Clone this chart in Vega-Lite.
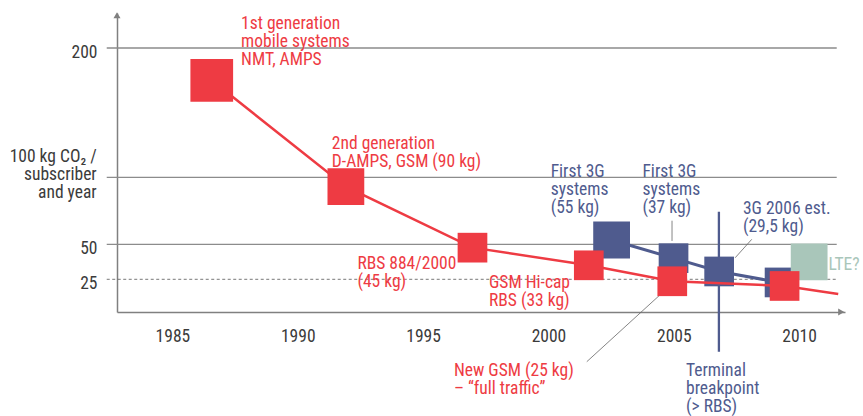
{
  "$schema": "https://vega.github.io/schema/vega-lite/v6.json",
  "width": 728,
  "height": 299,
  "autosize": {"type": "none"},
  "padding": {"left": 117, "top": 13, "right": 18, "bottom": 104},
  "background": "white",
  "config": {"view": {"stroke": null}, "font": "Liberation Sans Narrow, Roboto Condensed, DejaVu Sans Condensed, sans-serif"},
  "datasets": {
    "grid": [{"kg": 200}, {"kg": 100}, {"kg": 50}, {"kg": 25}],
    "systems": [
      {"series": "GSM", "year": 1986.57, "kg": 175.0, "marker": "1G"},
      {"series": "GSM", "year": 1991.92, "kg": 93.0, "marker": "large"},
      {"series": "GSM", "year": 1996.97, "kg": 47.6, "marker": "std"},
      {"series": "GSM", "year": 2001.61, "kg": 35.0, "marker": "std"},
      {"series": "GSM", "year": 2004.94, "kg": 23.5, "marker": "std"},
      {"series": "GSM", "year": 2009.42, "kg": 19.9, "marker": "std"},
      {"series": "GSM", "year": 2011.56, "kg": 13.8, "marker": "none"},
      {"series": "3G", "year": 2002.52, "kg": 53.2, "marker": "large"},
      {"series": "3G", "year": 2004.99, "kg": 40.1, "marker": "std"},
      {"series": "3G", "year": 2006.81, "kg": 30.6, "marker": "std"},
      {"series": "3G", "year": 2009.22, "kg": 22.6, "marker": "std"},
      {"series": "LTE", "year": 2010.40, "kg": 37.4, "marker": "large"}
    ],
    "breakpoint": [{"year": 2006.80, "kg": 74.3, "kg2": -30.4}],
    "pointers": [
      {"year": 2004.93, "kg": 67.6, "year2": 2004.93, "kg2": 52.5},
      {"year": 2008.11, "kg": 53.7, "year2": 2007.45, "kg2": 40.4},
      {"year": 2004.52, "kg": 14.3, "year2": 2001.53, "kg2": -38.0}
    ],
    "notes": [
      {"text": "1st generation\nmobile systems\nNMT, AMPS", "series": "GSM", "year": 1987.74, "kg": 214.4},
      {"text": "2nd generation\nD-AMPS, GSM (90 kg)", "series": "GSM", "year": 1991.36, "kg": 121.7},
      {"text": "RBS 884/2000\n(45 kg)", "series": "GSM", "year": 1992.38, "kg": 32.4},
      {"text": "GSM Hi-cap\nRBS (33 kg)", "series": "GSM", "year": 1997.63, "kg": 18.0},
      {"text": "New GSM (25 kg)\n– “full traffic”", "series": "GSM", "year": 1996.23, "kg": -48.9},
      {"text": "First 3G\nsystems\n(55 kg)", "series": "3G", "year": 2000.09, "kg": 100.5},
      {"text": "First 3G\nsystems\n(37 kg)", "series": "3G", "year": 2003.75, "kg": 100.5},
      {"text": "3G 2006 est.\n(29,5 kg)", "series": "3G", "year": 2007.76, "kg": 72.6},
      {"text": "Terminal\nbreakpoint\n(> RBS)", "series": "3G", "year": 2005.49, "kg": -48.7},
      {"text": "LTE?", "series": "LTE", "year": 2011.17, "kg": 31.6}
    ],
    "ytitle": [{"text": "100 kg CO₂ /\nsubscriber\nand year", "series": "axis", "year": 1981.98, "kg": 112.1}],
    "arrows": [{"dir": "up", "year": 1982.79, "kg": 225.3}, {"dir": "right", "year": 2011.68, "kg": 0}]
  },
  "layer": [
    {
      "data": {"name": "grid"},
      "mark": {"type": "rule"},
      "encoding": {
        "x": {"datum": 1982.38, "type": "quantitative", "scale": {"domain": [1982.79, 2011.83], "nice": false, "zero": false}},
        "x2": {"datum": 2011.5},
        "y": {"field": "kg", "type": "quantitative", "scale": {"domain": [0, 25, 50, 100, 200, 227], "range": [299, 266.3, 231.3, 164.3, 35, 0], "nice": false, "zero": false}},
        "stroke": {"condition": {"test": "datum.kg === 25", "value": "#555555"}, "value": "#8c8c8c"},
        "strokeWidth": {"condition": {"test": "datum.kg === 25", "value": 0.8}, "value": 1.3},
        "strokeDash": {"condition": {"test": "datum.kg === 25", "value": [3, 2.5]}, "value": [1, 0]}
      }
    },
    {
      "data": {"name": "breakpoint"},
      "mark": {"type": "rule", "color": "#4f5b8e", "strokeWidth": 2.3},
      "encoding": {
        "x": {"field": "year", "type": "quantitative", "scale": {"domain": [1982.79, 2011.83], "nice": false, "zero": false}, "axis": {"title": null, "values": [1985, 1990, 1995, 2000, 2005, 2010], "format": "d", "grid": false, "ticks": false, "tickSize": 0, "domainColor": "#808080", "domainWidth": 1.5, "labelFontSize": 17.5, "labelColor": "#3b3b3b", "labelPadding": 15}},
        "y": {"field": "kg", "type": "quantitative", "scale": {"domain": [0, 25, 50, 100, 200, 227], "range": [299, 266.3, 231.3, 164.3, 35, 0], "nice": false, "zero": false}, "axis": {"title": null, "values": [25, 50, 200], "grid": false, "ticks": false, "tickSize": 0, "domainColor": "#808080", "domainWidth": 1.5, "labelFontSize": 17.5, "labelColor": "#3b3b3b", "labelPadding": 20, "labelOffset": 4.5}},
        "y2": {"field": "kg2"}
      }
    },
    {
      "data": {"name": "pointers"},
      "mark": {"type": "rule", "color": "#666666", "strokeWidth": 0.8},
      "encoding": {
        "x": {"field": "year", "type": "quantitative", "scale": {"domain": [1982.79, 2011.83], "nice": false, "zero": false}},
        "x2": {"field": "year2"},
        "y": {"field": "kg", "type": "quantitative", "scale": {"domain": [0, 25, 50, 100, 200, 227], "range": [299, 266.3, 231.3, 164.3, 35, 0], "nice": false, "zero": false}},
        "y2": {"field": "kg2"}
      }
    },
    {
      "data": {"name": "systems"},
      "transform": [{"filter": "datum.series === '3G'"}],
      "mark": {"type": "line", "strokeWidth": 3},
      "encoding": {
        "x": {"field": "year", "type": "quantitative", "scale": {"domain": [1982.79, 2011.83], "nice": false, "zero": false}},
        "y": {"field": "kg", "type": "quantitative", "scale": {"domain": [0, 25, 50, 100, 200, 227], "range": [299, 266.3, 231.3, 164.3, 35, 0], "nice": false, "zero": false}},
        "color": {"field": "series", "type": "nominal", "scale": {"domain": ["GSM", "3G", "LTE", "axis"], "range": ["#ee3b43", "#4f5b8e", "#a9c6ba", "#3b3b3b"]}, "legend": null}
      }
    },
    {
      "data": {"name": "systems"},
      "transform": [{"filter": "datum.series !== 'GSM' && datum.marker !== 'none'"}],
      "mark": {"type": "point", "shape": "square", "filled": true, "opacity": 1, "strokeWidth": 0},
      "encoding": {
        "x": {"field": "year", "type": "quantitative", "scale": {"domain": [1982.79, 2011.83], "nice": false, "zero": false}},
        "y": {"field": "kg", "type": "quantitative", "scale": {"domain": [0, 25, 50, 100, 200, 227], "range": [299, 266.3, 231.3, 164.3, 35, 0], "nice": false, "zero": false}},
        "color": {"field": "series", "type": "nominal", "scale": {"domain": ["GSM", "3G", "LTE", "axis"], "range": ["#ee3b43", "#4f5b8e", "#a9c6ba", "#3b3b3b"]}, "legend": null},
        "size": {"field": "marker", "type": "nominal", "scale": {"domain": ["1G", "large", "std"], "range": [1823, 882, 441]}, "legend": null}
      }
    },
    {
      "data": {"name": "systems"},
      "transform": [{"filter": "datum.series === 'GSM'"}],
      "mark": {"type": "line", "strokeWidth": 2.5},
      "encoding": {
        "x": {"field": "year", "type": "quantitative", "scale": {"domain": [1982.79, 2011.83], "nice": false, "zero": false}},
        "y": {"field": "kg", "type": "quantitative", "scale": {"domain": [0, 25, 50, 100, 200, 227], "range": [299, 266.3, 231.3, 164.3, 35, 0], "nice": false, "zero": false}},
        "color": {"field": "series", "type": "nominal", "scale": {"domain": ["GSM", "3G", "LTE", "axis"], "range": ["#ee3b43", "#4f5b8e", "#a9c6ba", "#3b3b3b"]}, "legend": null}
      }
    },
    {
      "data": {"name": "systems"},
      "transform": [{"filter": "datum.series === 'GSM' && datum.marker !== 'none'"}],
      "mark": {"type": "point", "shape": "square", "filled": true, "opacity": 1, "strokeWidth": 0},
      "encoding": {
        "x": {"field": "year", "type": "quantitative", "scale": {"domain": [1982.79, 2011.83], "nice": false, "zero": false}},
        "y": {"field": "kg", "type": "quantitative", "scale": {"domain": [0, 25, 50, 100, 200, 227], "range": [299, 266.3, 231.3, 164.3, 35, 0], "nice": false, "zero": false}},
        "color": {"field": "series", "type": "nominal", "scale": {"domain": ["GSM", "3G", "LTE", "axis"], "range": ["#ee3b43", "#4f5b8e", "#a9c6ba", "#3b3b3b"]}, "legend": null},
        "size": {"field": "marker", "type": "nominal", "scale": {"domain": ["1G", "large", "std"], "range": [1823, 882, 441]}, "legend": null}
      }
    },
    {
      "data": {"name": "notes"},
      "mark": {"type": "text", "align": "left", "baseline": "alphabetic", "fontSize": 17.5, "lineHeight": 18, "lineBreak": "\n"},
      "encoding": {
        "x": {"field": "year", "type": "quantitative", "scale": {"domain": [1982.79, 2011.83], "nice": false, "zero": false}},
        "y": {"field": "kg", "type": "quantitative", "scale": {"domain": [0, 25, 50, 100, 200, 227], "range": [299, 266.3, 231.3, 164.3, 35, 0], "nice": false, "zero": false}},
        "text": {"field": "text"},
        "color": {"field": "series", "type": "nominal", "scale": {"domain": ["GSM", "3G", "LTE", "axis"], "range": ["#ee3b43", "#4f5b8e", "#a9c6ba", "#3b3b3b"]}, "legend": null}
      }
    },
    {
      "data": {"name": "ytitle"},
      "mark": {"type": "text", "align": "right", "baseline": "alphabetic", "fontSize": 17.5, "lineHeight": 18, "lineBreak": "\n"},
      "encoding": {
        "x": {"field": "year", "type": "quantitative", "scale": {"domain": [1982.79, 2011.83], "nice": false, "zero": false}},
        "y": {"field": "kg", "type": "quantitative", "scale": {"domain": [0, 25, 50, 100, 200, 227], "range": [299, 266.3, 231.3, 164.3, 35, 0], "nice": false, "zero": false}},
        "text": {"field": "text"},
        "color": {"field": "series", "type": "nominal", "scale": {"domain": ["GSM", "3G", "LTE", "axis"], "range": ["#ee3b43", "#4f5b8e", "#a9c6ba", "#3b3b3b"]}, "legend": null}
      }
    },
    {
      "data": {"name": "arrows"},
      "mark": {"type": "point", "filled": true, "opacity": 1, "color": "#808080", "size": 50, "strokeWidth": 0},
      "encoding": {
        "x": {"field": "year", "type": "quantitative", "scale": {"domain": [1982.79, 2011.83], "nice": false, "zero": false}},
        "y": {"field": "kg", "type": "quantitative", "scale": {"domain": [0, 25, 50, 100, 200, 227], "range": [299, 266.3, 231.3, 164.3, 35, 0], "nice": false, "zero": false}},
        "shape": {"field": "dir", "type": "nominal", "scale": {"domain": ["up", "right"], "range": ["triangle-up", "triangle-right"]}, "legend": null}
      }
    }
  ]
}
